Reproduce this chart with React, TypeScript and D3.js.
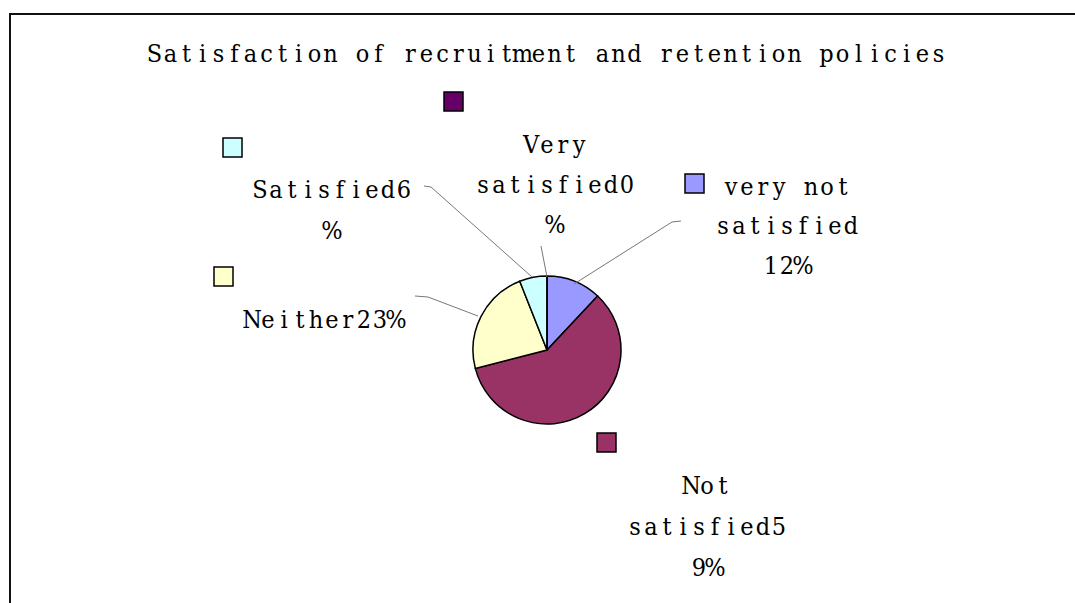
import React from "react";
import * as d3 from "d3";

const title = "Satisfaction of recruitment and retention policies";
const categories = ["very not satisfied", "Not satisfied", "Neither", "Satisfied", "Very satisfied"];
const values = [12, 59, 23, 6, 0];
const colors = ["#9999FF", "#993366", "#FFFFCC", "#CCFFFF", "#660066"];
const labelLines = [
  ["very not", "satisfied", "12%"],
  ["Not", "satisfied5", "9%"],
  ["Neither23%"],
  ["Satisfied6", "%"],
  ["Very", "satisfied0", "%"],
];

// layout (positions only)
const W = 1075, H = 603;
const cx = 547, cy = 350, R = 74;
const FONT = "'DejaVu Serif', serif";
const FS = "25px";
const CHAR = 16;
const SX = 0.9;
const labelPos = [
  { x: 787, y: 195, lh: 39.5, sq: [685, 174] },
  { x: 707, y: 494, lh: 41, sq: [597, 433] },
  { x: 324, y: 328, lh: 40, sq: [214, 267] },
  { x: 332, y: 198, lh: 41, sq: [223, 138] },
  { x: 555, y: 153, lh: 40, sq: [444, 92] },
];
const leaders: [number, number][][] = [
  [[681, 221], [672, 222], [574, 284]],
  [],
  [[415, 296], [428, 297], [478, 316]],
  [[424, 186], [431, 187], [532, 277]],
  [[541, 246], [547, 277]],
];

// monospaced-cell text: each glyph centred in a CHAR-wide cell, slightly condensed
function Txt({ x, y, s }: { x: number; y: number; s: string }) {
  const n = s.length;
  const left = x - (n * CHAR) / 2;
  const xs = Array.from(s).map((_, k) => ((left + CHAR * (k + 0.5)) / SX).toFixed(2)).join(" ");
  return (
    <text x={xs} y={y} transform={`scale(${SX},1)`} textAnchor="middle" fill="#000"
      style={{ whiteSpace: "pre", fontFamily: FONT, fontSize: FS }}>
      {s}
    </text>
  );
}

export default function App() {
  const pie = d3.pie<number>().sort(null).startAngle(0).endAngle(2 * Math.PI);
  const arcs = pie(values);
  const arc = d3.arc<d3.PieArcDatum<number>>().innerRadius(0).outerRadius(R);
  const line = d3.line();
  return (
    <svg width={W} height={H} style={{ position: "fixed", left: 0, top: 0, background: "#fff" }}>
      <rect x={0} y={0} width={W} height={H} fill="#fff" />
      <rect x={10} y={14} width={W + 20} height={H + 20} fill="none" stroke="#111" strokeWidth={2} />
      <Txt x={546.5} y={62} s={title} />
      <g transform={`translate(${cx},${cy})`}>
        {arcs.map((a, i) => (
          <path key={i} d={arc(a) || ""} fill={colors[i]} stroke="#000" strokeWidth={1.5} />
        ))}
      </g>
      {leaders.map((pts, i) =>
        pts.length ? <path key={i} d={line(pts) || ""} fill="none" stroke="#777" strokeWidth={1} /> : null
      )}
      {categories.map((c, i) => {
        const p = labelPos[i];
        return (
          <g key={c}>
            <rect x={p.sq[0]} y={p.sq[1]} width={19} height={19} fill={colors[i]} stroke="#000" strokeWidth={1.5} />
            {labelLines[i].map((s, j) => (
              <Txt key={j} x={p.x} y={p.y + j * p.lh} s={s} />
            ))}
          </g>
        );
      })}
    </svg>
  );
}
